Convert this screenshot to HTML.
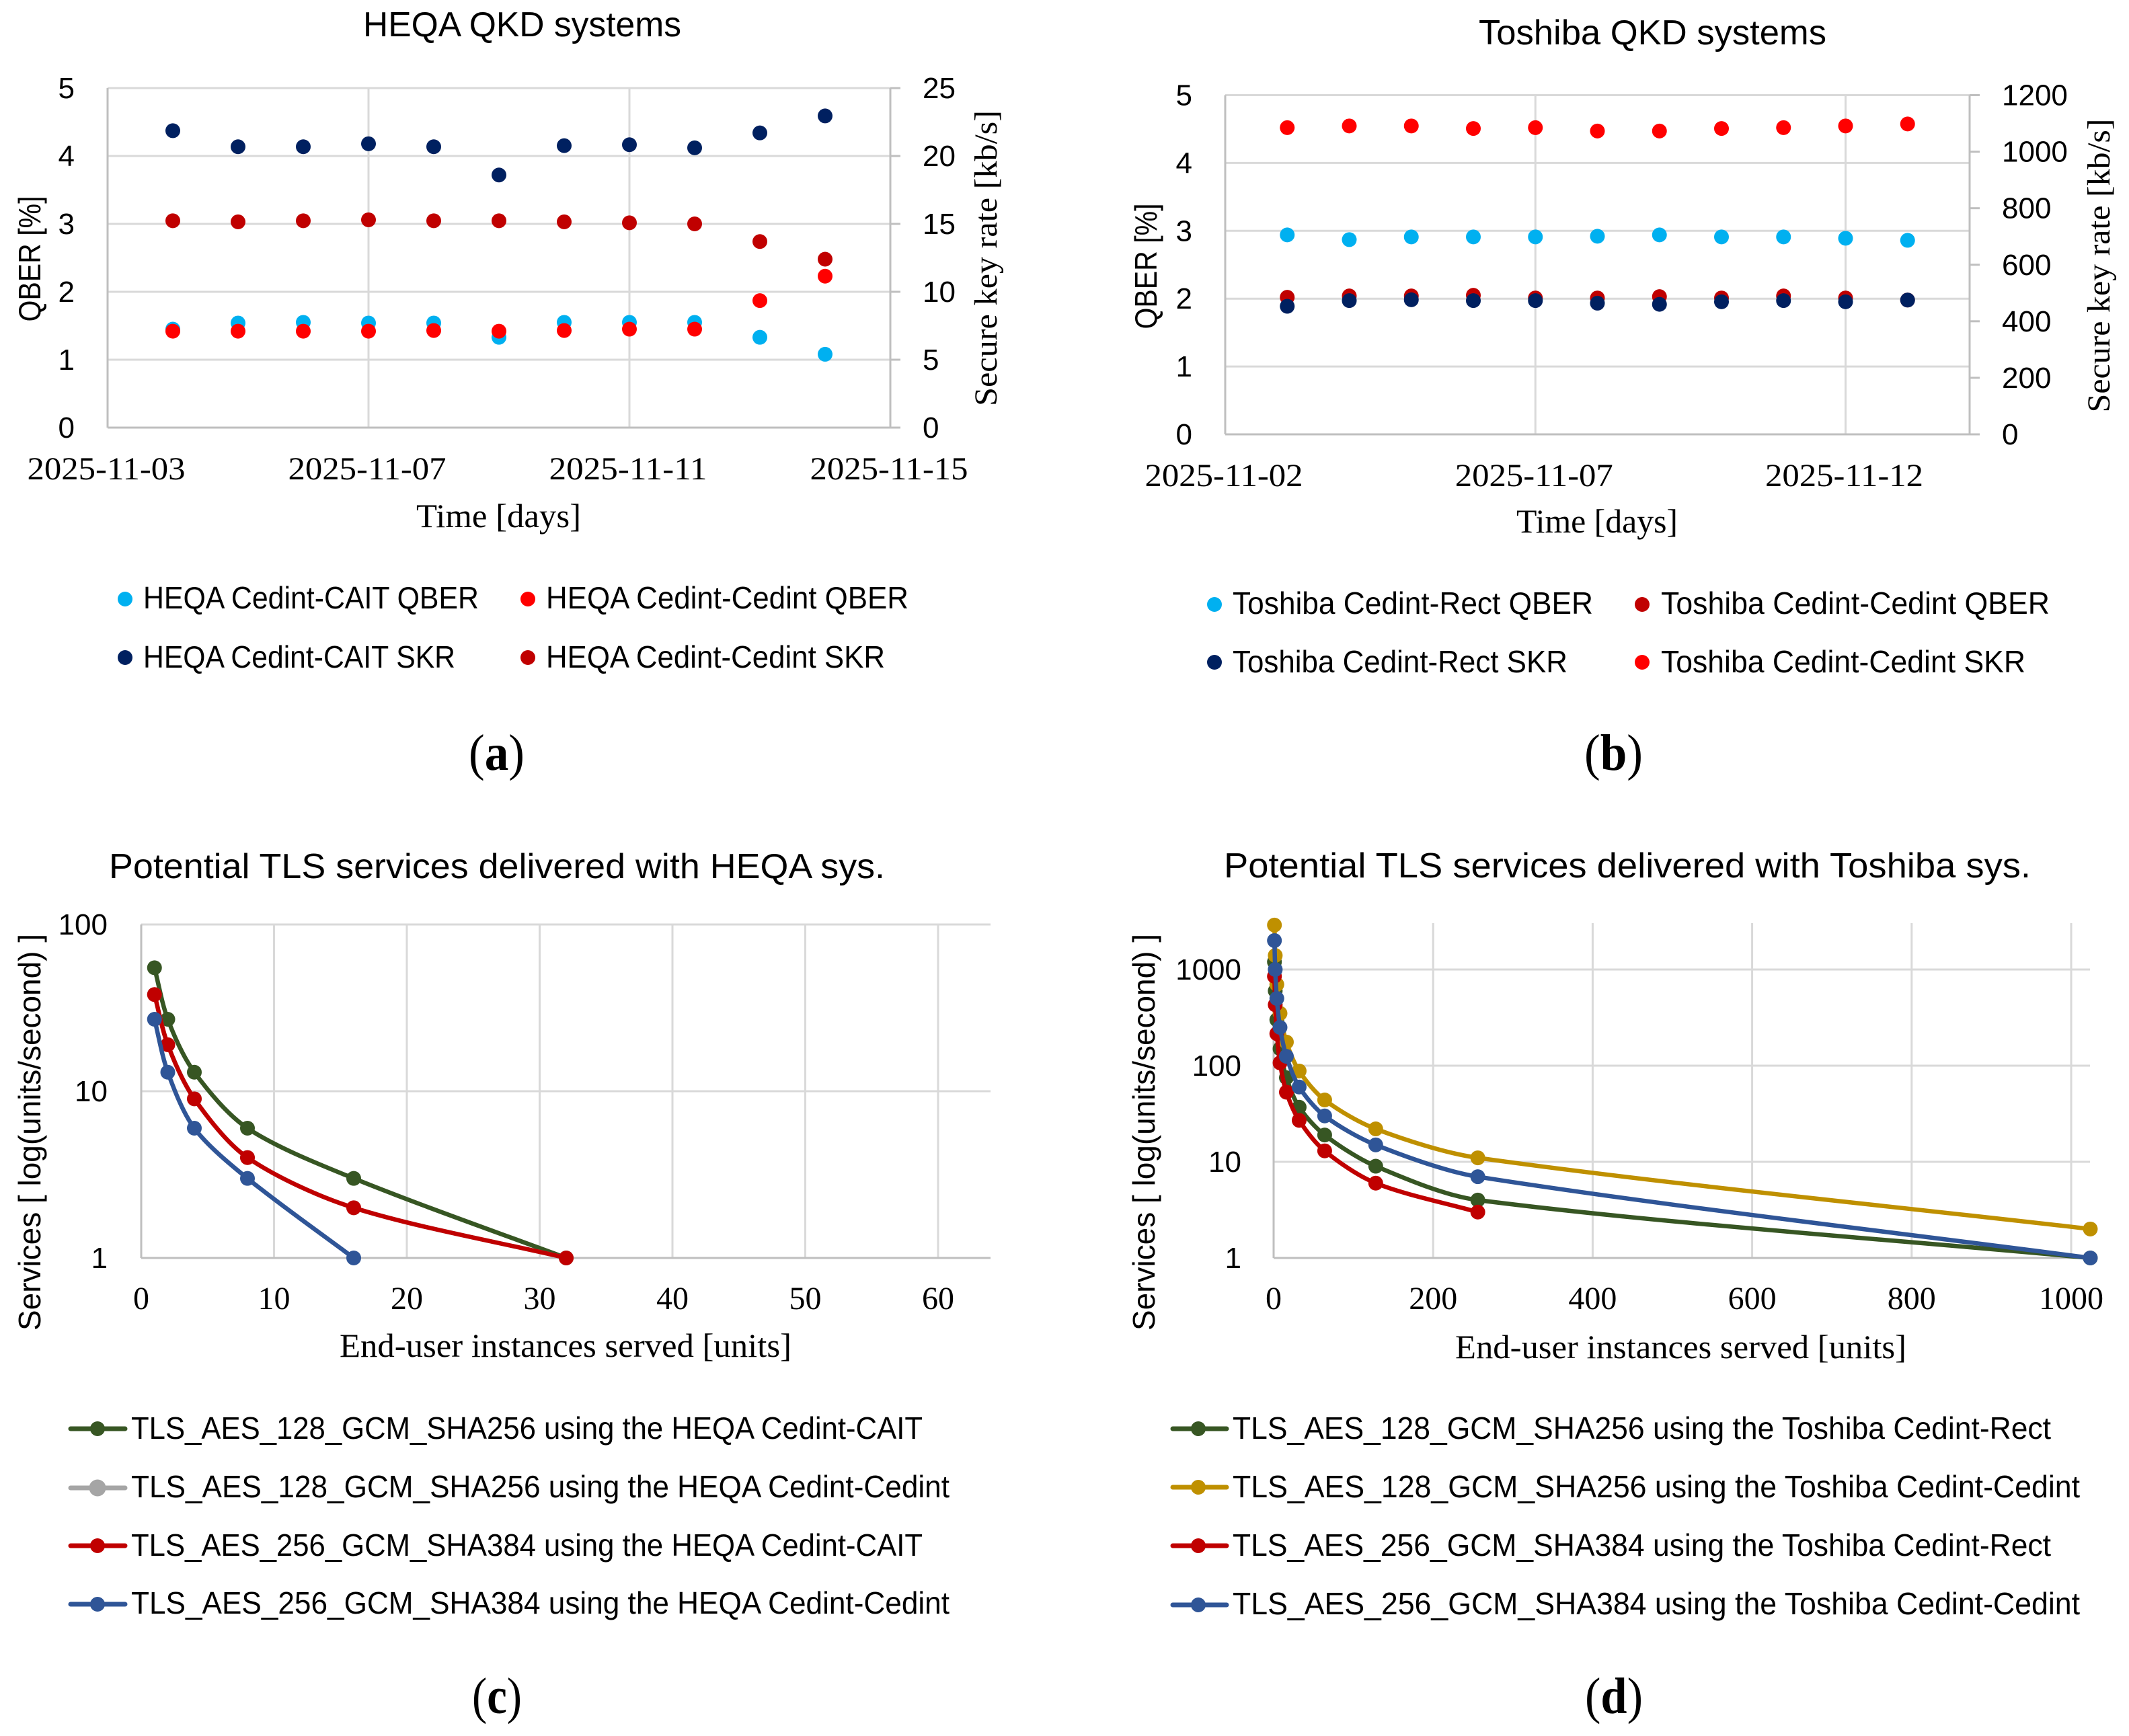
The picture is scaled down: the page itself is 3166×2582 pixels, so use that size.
<!DOCTYPE html>
<html lang="en">
<head>
<meta charset="utf-8">
<title>QKD systems and potential TLS services</title>
<style>
html,body{margin:0;padding:0;background:#fff;}
svg{display:block;}
text{fill:#000;}
.sans{font-family:"Liberation Sans",sans-serif;}
.serif{font-family:"Liberation Serif",serif;}
.title{font-size:52px;}
.legend{font-size:46px;}
.ytitle{font-size:46px;}
.stitle{font-size:48px;}
.xtitle{font-size:50px;}
.panel{font-size:76px;}
.panel tspan{font-weight:bold;}
</style>
</head>
<body>
<svg id="figure" xmlns="http://www.w3.org/2000/svg" width="3166" height="2582" viewBox="0 0 3166 2582">
  <rect x="0" y="0" width="3166" height="2582" fill="#ffffff"/>

  <!-- Panel a -->
  <g id="chart-a">
    <text class="sans title" x="540" y="54" textLength="473" lengthAdjust="spacingAndGlyphs">HEQA QKD systems</text>
    <text class="serif xtitle" x="619" y="784" textLength="245" lengthAdjust="spacingAndGlyphs">Time [days]</text>
    <text class="sans ytitle" text-anchor="middle" transform="translate(60,385) rotate(-90)" textLength="187" lengthAdjust="spacingAndGlyphs">QBER [%]</text>
    <text class="serif stitle" text-anchor="middle" transform="translate(1482,384) rotate(-90)" textLength="440" lengthAdjust="spacingAndGlyphs">Secure key rate [kb/s]</text>
    <g>
      <circle cx="186" cy="891" r="11" fill="#00b0f0"/>
      <text class="sans legend" x="213" y="905" textLength="499" lengthAdjust="spacingAndGlyphs">HEQA Cedint-CAIT QBER</text>
      <circle cx="785" cy="891" r="11" fill="#ff0000"/>
      <text class="sans legend" x="812" y="905" textLength="539" lengthAdjust="spacingAndGlyphs">HEQA Cedint-Cedint QBER</text>
      <circle cx="186" cy="978" r="11" fill="#002060"/>
      <text class="sans legend" x="213" y="993" textLength="464" lengthAdjust="spacingAndGlyphs">HEQA Cedint-CAIT SKR</text>
      <circle cx="785" cy="978" r="11" fill="#c00000"/>
      <text class="sans legend" x="812" y="993" textLength="504" lengthAdjust="spacingAndGlyphs">HEQA Cedint-Cedint SKR</text>
    </g>
    <text class="serif panel" x="697" y="1145" textLength="83" lengthAdjust="spacingAndGlyphs">(<tspan>a</tspan>)</text>
  </g>

  <!-- Panel b -->
  <g id="chart-b">
    <text class="sans title" x="2199" y="66" textLength="517" lengthAdjust="spacingAndGlyphs">Toshiba QKD systems</text>
    <text class="serif xtitle" x="2255" y="792" textLength="240" lengthAdjust="spacingAndGlyphs">Time [days]</text>
    <text class="sans ytitle" text-anchor="middle" transform="translate(1720,396) rotate(-90)" textLength="187" lengthAdjust="spacingAndGlyphs">QBER [%]</text>
    <text class="serif stitle" text-anchor="middle" transform="translate(3137,395) rotate(-90)" textLength="437" lengthAdjust="spacingAndGlyphs">Secure key rate [kb/s]</text>
    <g>
      <circle cx="1806" cy="899" r="11" fill="#00b0f0"/>
      <text class="sans legend" x="1833" y="913" textLength="536" lengthAdjust="spacingAndGlyphs">Toshiba Cedint-Rect QBER</text>
      <circle cx="2442" cy="899" r="11" fill="#c00000"/>
      <text class="sans legend" x="2470" y="913" textLength="578" lengthAdjust="spacingAndGlyphs">Toshiba Cedint-Cedint QBER</text>
      <circle cx="1806" cy="985" r="11" fill="#002060"/>
      <text class="sans legend" x="1833" y="1000" textLength="498" lengthAdjust="spacingAndGlyphs">Toshiba Cedint-Rect SKR</text>
      <circle cx="2442" cy="985" r="11" fill="#ff0000"/>
      <text class="sans legend" x="2470" y="1000" textLength="542" lengthAdjust="spacingAndGlyphs">Toshiba Cedint-Cedint SKR</text>
    </g>
    <text class="serif panel" x="2356" y="1145" textLength="87" lengthAdjust="spacingAndGlyphs">(<tspan>b</tspan>)</text>
  </g>

  <!-- Panel c -->
  <g id="chart-c">
    <text class="sans title" x="162" y="1306" textLength="1154" lengthAdjust="spacingAndGlyphs">Potential TLS services delivered with HEQA sys.</text>
    <text class="serif xtitle" x="505" y="2018" textLength="672" lengthAdjust="spacingAndGlyphs">End-user instances served [units]</text>
    <text class="sans ytitle" text-anchor="middle" transform="translate(60,1684) rotate(-90)" textLength="590" lengthAdjust="spacingAndGlyphs">Services [ log(units/second) ]</text>
    <g>
      <line x1="105" x2="186" y1="2125" y2="2125" stroke="#375623" stroke-width="7" stroke-linecap="round"/>
      <circle cx="145" cy="2125" r="11" fill="#375623"/>
      <text class="sans legend" x="195" y="2140" textLength="1177" lengthAdjust="spacingAndGlyphs">TLS_AES_128_GCM_SHA256 using the HEQA Cedint-CAIT</text>
      <line x1="105" x2="186" y1="2213" y2="2213" stroke="#a5a5a5" stroke-width="7" stroke-linecap="round"/>
      <circle cx="145" cy="2213" r="12.5" fill="#a5a5a5"/>
      <text class="sans legend" x="195" y="2227" textLength="1217" lengthAdjust="spacingAndGlyphs">TLS_AES_128_GCM_SHA256 using the HEQA Cedint-Cedint</text>
      <line x1="105" x2="186" y1="2299" y2="2299" stroke="#c00000" stroke-width="7" stroke-linecap="round"/>
      <circle cx="145" cy="2299" r="11" fill="#c00000"/>
      <text class="sans legend" x="195" y="2314" textLength="1177" lengthAdjust="spacingAndGlyphs">TLS_AES_256_GCM_SHA384 using the HEQA Cedint-CAIT</text>
      <line x1="105" x2="186" y1="2386" y2="2386" stroke="#2f5597" stroke-width="7" stroke-linecap="round"/>
      <circle cx="145" cy="2386" r="11" fill="#2f5597"/>
      <text class="sans legend" x="195" y="2400" textLength="1217" lengthAdjust="spacingAndGlyphs">TLS_AES_256_GCM_SHA384 using the HEQA Cedint-Cedint</text>
    </g>
    <text class="serif panel" x="702" y="2548" textLength="74" lengthAdjust="spacingAndGlyphs">(<tspan>c</tspan>)</text>
  </g>

  <!-- Panel d -->
  <g id="chart-d">
    <text class="sans title" x="1820" y="1305" textLength="1200" lengthAdjust="spacingAndGlyphs">Potential TLS services delivered with Toshiba sys.</text>
    <text class="serif xtitle" x="2164" y="2020" textLength="671" lengthAdjust="spacingAndGlyphs">End-user instances served [units]</text>
    <text class="sans ytitle" text-anchor="middle" transform="translate(1717,1684) rotate(-90)" textLength="590" lengthAdjust="spacingAndGlyphs">Services [ log(units/second) ]</text>
    <g>
      <line x1="1744" x2="1824" y1="2125" y2="2125" stroke="#375623" stroke-width="7" stroke-linecap="round"/>
      <circle cx="1782" cy="2125" r="11" fill="#375623"/>
      <text class="sans legend" x="1833" y="2140" textLength="1217" lengthAdjust="spacingAndGlyphs">TLS_AES_128_GCM_SHA256 using the Toshiba Cedint-Rect</text>
      <line x1="1744" x2="1824" y1="2212" y2="2212" stroke="#bf9000" stroke-width="7" stroke-linecap="round"/>
      <circle cx="1782" cy="2212" r="11" fill="#bf9000"/>
      <text class="sans legend" x="1833" y="2227" textLength="1260" lengthAdjust="spacingAndGlyphs">TLS_AES_128_GCM_SHA256 using the Toshiba Cedint-Cedint</text>
      <line x1="1744" x2="1824" y1="2299" y2="2299" stroke="#c00000" stroke-width="7" stroke-linecap="round"/>
      <circle cx="1782" cy="2299" r="11" fill="#c00000"/>
      <text class="sans legend" x="1833" y="2314" textLength="1217" lengthAdjust="spacingAndGlyphs">TLS_AES_256_GCM_SHA384 using the Toshiba Cedint-Rect</text>
      <line x1="1744" x2="1824" y1="2387" y2="2387" stroke="#2f5597" stroke-width="7" stroke-linecap="round"/>
      <circle cx="1782" cy="2387" r="11" fill="#2f5597"/>
      <text class="sans legend" x="1833" y="2401" textLength="1260" lengthAdjust="spacingAndGlyphs">TLS_AES_256_GCM_SHA384 using the Toshiba Cedint-Cedint</text>
    </g>
    <text class="serif panel" x="2357" y="2548" textLength="86" lengthAdjust="spacingAndGlyphs">(<tspan>d</tspan>)</text>
  </g>
</svg>

<script>
// ---------- Panel a data ----------
const aDates = ['2025-11-04','2025-11-05','2025-11-06','2025-11-07','2025-11-08','2025-11-09','2025-11-10','2025-11-11','2025-11-12','2025-11-13','2025-11-14'];
const aCaitQber = [1.45,1.54,1.55,1.54,1.54,1.33,1.55,1.55,1.55,1.33,1.08];
const aCedintQber = [1.42,1.42,1.42,1.42,1.43,1.42,1.43,1.45,1.45,1.87,2.23];
const aCaitSkr = [21.86,20.68,20.68,20.9,20.68,18.6,20.76,20.83,20.6,21.7,22.95];
const aCedintSkr = [15.23,15.15,15.23,15.3,15.23,15.23,15.15,15.08,15.0,13.7,12.4];
const aDateTicks = ['2025-11-03','2025-11-07','2025-11-11','2025-11-15'];
const aQberTicks = [0,1,2,3,4,5];
const aSkrTicks = [0,5,10,15,20,25];

// ---------- Panel b data ----------
const bDates = ['2025-11-03','2025-11-04','2025-11-05','2025-11-06','2025-11-07','2025-11-08','2025-11-09','2025-11-10','2025-11-11','2025-11-12','2025-11-13'];
const bRectQber = [2.94,2.87,2.91,2.91,2.91,2.92,2.94,2.91,2.91,2.89,2.86];
const bCedintQber = [2.02,2.04,2.04,2.05,2.01,2.01,2.03,2.01,2.04,2.01,1.98];
const bRectSkr = [453,473,476,473,473,464,460,469,473,469,475];
const bCedintSkr = [1085,1091,1091,1082,1085,1073,1073,1082,1085,1091,1098];
const bDateTicks = ['2025-11-02','2025-11-07','2025-11-12'];
const bQberTicks = [0,1,2,3,4,5];
const bSkrTicks = [0,200,400,600,800,1000,1200];

// ---------- Panel c data ----------
const cInstances = [1,2,4,8,16,32];
const c128Cait = [55,27,13,6,3,1];
const c128Cedint = [38,19,9,4,2,1];
const c256Cait = [38,19,9,4,2,1];
const c256Cedint = [27,13,6,3,1];
const cXTicks = [0,10,20,30,40,50,60];
const cYTicks = [1,10,100];

// ---------- Panel d data ----------
const dInstances = [1,2,4,8,16,32,64,128,256,1024];
const d128Rect = [1200,600,300,150,75,37,19,9,4,1];
const d128Cedint = [2900,1400,700,350,176,88,44,22,11,2];
const d256Rect = [850,430,215,107,53,27,13,6,3];
const d256Cedint = [2000,1000,500,250,125,60,30,15,7,1];
const dXTicks = [0,200,400,600,800,1000];
const dYTicks = [1,10,100,1000];

const SVGNS = 'http://www.w3.org/2000/svg';
const GRID = '#d9d9d9';
const AXIS = '#bfbfbf';

function make(parent, tag, props, content) {
  const el = document.createElementNS(SVGNS, tag);
  for (const k in props) el.setAttribute(k, props[k]);
  if (content !== undefined) el.textContent = content;
  parent.appendChild(el);
  return el;
}
function dayNumber(s) {
  const p = s.split('-').map(Number);
  return Date.UTC(p[0], p[1] - 1, p[2]) / 86400000;
}
function linearScale(d0, d1, r0, r1) {
  return function (v) { return r0 + (v - d0) * (r1 - r0) / (d1 - d0); };
}
function logScale(d0, d1, r0, r1) {
  const a = Math.log10(d0), b = Math.log10(d1);
  return function (v) { return r0 + (Math.log10(v) - a) * (r1 - r0) / (b - a); };
}
function drawLine(g, x1, y1, x2, y2, color, width) {
  const el = make(g, 'line', {x1: x1, y1: y1, x2: x2, y2: y2, stroke: color, 'stroke-width': width});
  
  
  return el;
}
function drawTick(g, x, y, label, cls, anchor, size, length) {
  const props = {x: x, y: y, 'class': cls, 'text-anchor': anchor, 'font-size': size};
  if (length) { props.textLength = length; props.lengthAdjust = 'spacingAndGlyphs'; }
  const el = make(g, 'text', props, String(label));
  
  
  return el;
}
function drawDots(g, xs, ys, sx, sy, color, r) {
  xs.forEach(function (x, i) {
    if (ys[i] === undefined) return;
    const dot = make(g, 'circle', {cx: sx(x), cy: sy(ys[i]), r: r, fill: color});
    
    
  });
}
function smoothPath(points) {
  let d = 'M' + points[0][0] + ' ' + points[0][1];
  function tangent(i) {
    const a = points[Math.max(i - 1, 0)], b = points[Math.min(i + 1, points.length - 1)];
    const dx = b[0] - a[0], dy = b[1] - a[1], len = Math.hypot(dx, dy) || 1;
    return [dx / len, dy / len];
  }
  for (let i = 0; i < points.length - 1; i++) {
    const p = points[i], q = points[i + 1];
    const seg = Math.hypot(q[0] - p[0], q[1] - p[1]) * 0.3;
    const t1 = tangent(i), t2 = tangent(i + 1);
    d += ' C' + (p[0] + t1[0] * seg) + ' ' + (p[1] + t1[1] * seg) + ' ' +
         (q[0] - t2[0] * seg) + ' ' + (q[1] - t2[1] * seg) + ' ' + q[0] + ' ' + q[1];
  }
  return d;
}
function drawSeries(g, xs, ys, sx, sy, color) {
  const n = Math.min(xs.length, ys.length);
  const pts = [];
  for (let i = 0; i < n; i++) pts.push([sx(xs[i]), sy(ys[i])]);
  const path = make(g, 'path', {d: smoothPath(pts), fill: 'none', stroke: color, 'stroke-width': 6.5, 'stroke-linejoin': 'round'});
  
  
  drawDots(g, xs.slice(0, n), ys, sx, sy, color, 11);
}

// ---------- Panel a ----------
(function () {
  const root = document.getElementById('chart-a');
  const plot = make(root, 'g', {});
  
  
  const x = linearScale(dayNumber('2025-11-03'), dayNumber('2025-11-15'), 160, 1324);
  const yQ = linearScale(0, 5, 636, 131);
  const yS = linearScale(0, 25, 636, 131);
  aQberTicks.forEach(function (t) {
    if (t > 0) drawLine(plot, 160, yQ(t), 1324, yQ(t), GRID, 3);
    drawTick(plot, 111, yQ(t) + 15, t, 'sans', 'end', 44);
  });
  aDateTicks.forEach(function (t) {
    const px = x(dayNumber(t));
    if (px > 160 && px < 1324) drawLine(plot, px, 131, px, 636, GRID, 3);
    drawTick(plot, px - 2, 713, t, 'serif', 'middle', 48, 235);
  });
  drawLine(plot, 160, 131, 160, 636, AXIS, 3);
  drawLine(plot, 1324, 131, 1324, 636, AXIS, 3);
  drawLine(plot, 160, 636, 1324, 636, AXIS, 3);
  aSkrTicks.forEach(function (t) {
    drawLine(plot, 1324, yS(t), 1339, yS(t), AXIS, 3);
    drawTick(plot, 1372, yS(t) + 15, t, 'sans', 'start', 44);
  });
  const days = aDates.map(dayNumber);
  drawDots(plot, days, aCaitQber, x, yQ, '#00b0f0', 11);
  drawDots(plot, days, aCedintQber, x, yQ, '#ff0000', 11);
  drawDots(plot, days, aCaitSkr, x, yS, '#002060', 11);
  drawDots(plot, days, aCedintSkr, x, yS, '#c00000', 11);
})();

// ---------- Panel b ----------
(function () {
  const root = document.getElementById('chart-b');
  const plot = make(root, 'g', {});
  
  
  const x = linearScale(dayNumber('2025-11-02'), dayNumber('2025-11-14'), 1822, 2929);
  const yQ = linearScale(0, 5, 646, 141.5);
  const yS = linearScale(0, 1200, 646, 141.5);
  bQberTicks.forEach(function (t) {
    if (t > 0) drawLine(plot, 1822, yQ(t), 2929, yQ(t), GRID, 3);
    drawTick(plot, 1773, yQ(t) + 15, t, 'sans', 'end', 44);
  });
  bDateTicks.forEach(function (t) {
    const px = x(dayNumber(t));
    if (px > 1822) drawLine(plot, px, 141.5, px, 646, GRID, 3);
    drawTick(plot, px - 2, 723, t, 'serif', 'middle', 48, 235);
  });
  drawLine(plot, 1822, 141.5, 1822, 646, AXIS, 3);
  drawLine(plot, 2929, 141.5, 2929, 646, AXIS, 3);
  drawLine(plot, 1822, 646, 2929, 646, AXIS, 3);
  bSkrTicks.forEach(function (t) {
    drawLine(plot, 2929, yS(t), 2944, yS(t), AXIS, 3);
    drawTick(plot, 2977, yS(t) + 15, t, 'sans', 'start', 44);
  });
  const days = bDates.map(dayNumber);
  drawDots(plot, days, bRectQber, x, yQ, '#00b0f0', 11);
  drawDots(plot, days, bCedintQber, x, yQ, '#c00000', 11);
  drawDots(plot, days, bRectSkr, x, yS, '#002060', 11);
  drawDots(plot, days, bCedintSkr, x, yS, '#ff0000', 11);
})();

// ---------- Panel c ----------
(function () {
  const root = document.getElementById('chart-c');
  const plot = make(root, 'g', {});
  
  
  const x = linearScale(0, 60, 210, 1395);
  const y = logScale(1, 100, 1871, 1375);
  cXTicks.forEach(function (t) {
    if (t > 0) drawLine(plot, x(t), 1375, x(t), 1871, GRID, 3);
    drawTick(plot, x(t), 1947, t, 'serif', 'middle', 48);
  });
  cYTicks.forEach(function (t) {
    if (t > 1) drawLine(plot, 210, y(t), 1473, y(t), GRID, 3);
    drawTick(plot, 160, y(t) + 15, t, 'sans', 'end', 44);
  });
  drawLine(plot, 210, 1375, 210, 1871, AXIS, 3);
  drawLine(plot, 210, 1871, 1473, 1871, AXIS, 3);
  drawSeries(plot, cInstances, c128Cait, x, y, '#375623');
  drawSeries(plot, cInstances, c128Cedint, x, y, '#a5a5a5');
  drawSeries(plot, cInstances, c256Cait, x, y, '#c00000');
  drawSeries(plot, cInstances, c256Cedint, x, y, '#2f5597');
})();

// ---------- Panel d ----------
(function () {
  const root = document.getElementById('chart-d');
  const plot = make(root, 'g', {});
  
  
  const x = linearScale(0, 1000, 1894, 3080);
  const y = logScale(1, 1000, 1871, 1442);
  dXTicks.forEach(function (t) {
    if (t > 0) drawLine(plot, x(t), 1373, x(t), 1871, GRID, 3);
    drawTick(plot, x(t), 1947, t, 'serif', 'middle', 48);
  });
  dYTicks.forEach(function (t) {
    if (t > 1) drawLine(plot, 1894, y(t), 3108, y(t), GRID, 3);
    drawTick(plot, 1846, y(t) + 15, t, 'sans', 'end', 44);
  });
  drawLine(plot, 1894, 1373, 1894, 1871, AXIS, 3);
  drawLine(plot, 1894, 1871, 3108, 1871, AXIS, 3);
  drawSeries(plot, dInstances, d128Rect, x, y, '#375623');
  drawSeries(plot, dInstances, d128Cedint, x, y, '#bf9000');
  drawSeries(plot, dInstances, d256Rect, x, y, '#c00000');
  drawSeries(plot, dInstances, d256Cedint, x, y, '#2f5597');
})();
</script>
</body>
</html>
